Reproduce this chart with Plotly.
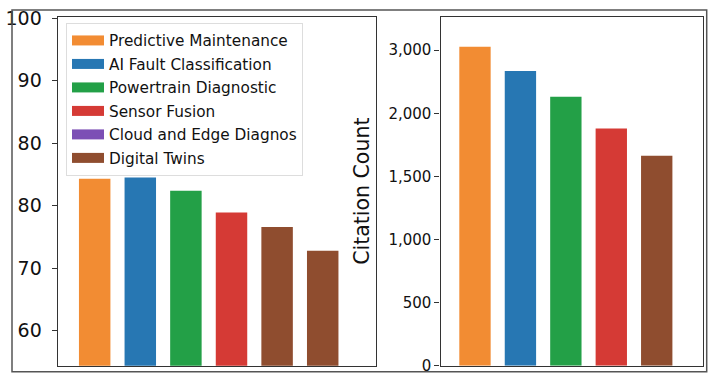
import plotly.graph_objects as go

# ---- data ----
legend_names = ["Predictive Maintenance", "AI Fault Classification", "Powertrain Diagnostic",
                "Sensor Fusion", "Cloud and Edge Diagnos", "Digital Twins"]
legend_colors = ["#F28C33", "#2777B3", "#23A047", "#D53A35", "#7C4FB5", "#8F4D2F"]

left_categories = ["Predictive Maintenance", "AI Fault Classification", "Powertrain Diagnostic",
                   "Sensor Fusion", "Cloud and Edge Diagnos", "Digital Twins"]
left_values = [84.3, 84.5, 82.4, 78.9, 76.6, 72.8]
left_colors = ["#F28C33", "#2777B3", "#23A047", "#D53A35", "#8F4D2F", "#8F4D2F"]
left_tickvals = [60, 70, 80, 90, 100, 110]
left_ticktext = ["60", "70", "80", "80", "90", "100"]

right_categories = ["Predictive Maintenance", "AI Fault Classification", "Powertrain Diagnostic",
                    "Sensor Fusion", "Digital Twins"]
right_values = [2526, 2334, 2130, 1880, 1663]
right_colors = ["#F28C33", "#2777B3", "#23A047", "#D53A35", "#8F4D2F"]
right_tickvals = [0, 500, 1000, 1500, 2000, 2500]
right_ticktext = ["0", "500", "1,000", "1,500", "2,000", "3,000"]

W, H = 720, 382
FONT = "DejaVu Sans"

fig = go.Figure()
fig.add_trace(go.Bar(x=left_categories, y=left_values, marker=dict(color=left_colors, line=dict(width=0)),
                     xaxis="x", yaxis="y", showlegend=False))
fig.add_trace(go.Bar(x=right_categories, y=right_values, marker=dict(color=right_colors, line=dict(width=0)),
                     xaxis="x2", yaxis="y2", showlegend=False))
for name, col in zip(legend_names, legend_colors):
    fig.add_trace(go.Scatter(x=[None], y=[None], mode="lines", name=name, legendgroup=name,
                             line=dict(color=col, width=12), xaxis="x", yaxis="y"))

axis_line = dict(showline=True, linecolor="#333333", linewidth=1.3, mirror=True,
                 showgrid=False, zeroline=False, automargin=False)

fig.update_layout(
    width=W, height=H,
    margin=dict(l=0, r=0, t=0, b=0, autoexpand=False),
    paper_bgcolor="white", plot_bgcolor="white",
    font=dict(family=FONT, color="#111111"),
    bargap=0.31,
    xaxis=dict(domain=[57.7 / W, 376.3 / W], type="category", range=[-0.811, 6.175],
               showticklabels=False, ticks="", **axis_line),
    yaxis=dict(domain=[1 - 365.7 / H, 1 - 16.7 / H], range=[54.4, 110.24],
               tickvals=left_tickvals, ticktext=left_ticktext, ticks="outside", ticklen=5,
               tickcolor="#333333", tickfont=dict(size=19, family=FONT, color="#111111"),
               ticklabelstandoff=6, **axis_line),
    xaxis2=dict(domain=[440.5 / W, 703.3 / W], type="category", range=[-0.759, 5.025],
                showticklabels=False, ticks="", anchor="y2", **axis_line),
    yaxis2=dict(domain=[1 - 365.7 / H, 1 - 16.7 / H], range=[0, 2765], anchor="x2",
                tickvals=right_tickvals, ticktext=right_ticktext, ticks="outside", ticklen=5,
                tickcolor="#333333", tickfont=dict(size=15, family=FONT, color="#111111"),
                title=dict(text="Citation Count", font=dict(size=20.5, family=FONT, color="#111111"),
                           standoff=13),
                **axis_line),
    legend=dict(x=66 / W, y=1 - 23 / H, xanchor="left", yanchor="top",
                bgcolor="white", bordercolor="#dddddd", borderwidth=1, tracegroupgap=0.6,
                font=dict(size=15.3, family=FONT, color="#111111"), itemwidth=32),
    shapes=[dict(type="rect", xref="paper", yref="paper",
                 x0=12 / W, x1=706.7 / W, y0=1 - 371.7 / H, y1=1 - 10 / H,
                 line=dict(color="#555555", width=1.5), layer="above")],
)

fig.write_html("out.html", config={"displayModeBar": False},
               post_script="document.body.style.margin='0';document.body.style.overflow='hidden';")
